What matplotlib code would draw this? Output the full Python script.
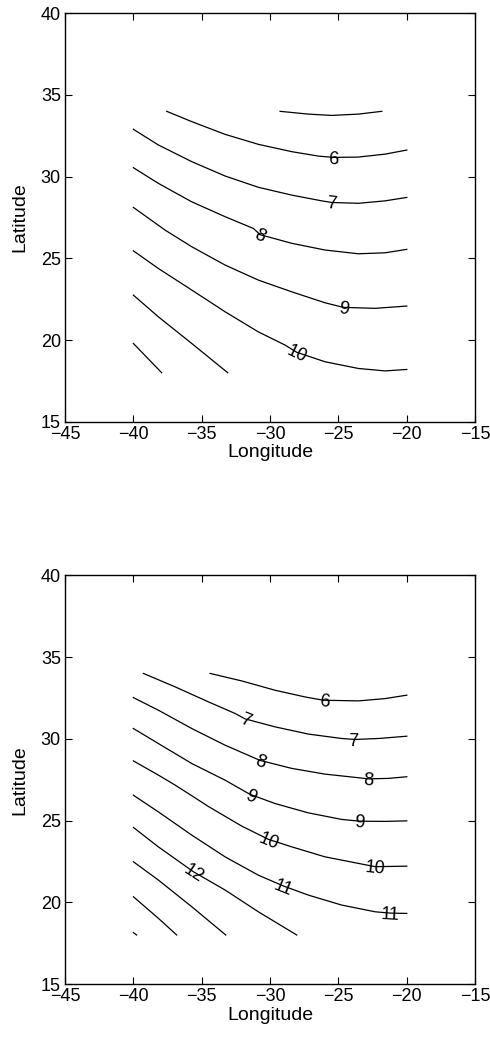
import numpy as np
import matplotlib
matplotlib.use('Agg')
import matplotlib.pyplot as plt

plt.rcParams['font.family'] = ['Liberation Sans', 'DejaVu Sans']

# contour lines: one lon/lat list per level
top_levels = [5, 6, 7, 8, 9, 10, 11, 12]
top_lons = [
    [-29.27, -27.2, -25.49, -23.54, -21.83],
    [-37.56, -35.73, -33.29, -30.86, -28.41, -26.47, -25.37, -23.54, -21.59, -20.0],
    [-40.0, -38.17, -35.73, -33.29, -30.86, -28.41, -26.22, -25.49, -23.54, -21.59, -20.0],
    [-40.0, -38.17, -35.73, -33.29, -31.22, -30.73, -28.41, -25.98, -23.54, -21.59, -20.0],
    [-40.0, -37.68, -35.73, -33.29, -30.86, -28.41, -25.98, -24.64, -22.32, -20.0],
    [-40.0, -38.17, -35.73, -33.29, -30.86, -28.9, -28.05, -25.98, -23.54, -21.59, -20.0],
    [-40.0, -38.17, -35.73, -33.1],
    [-40.0, -37.93],
]
top_lats = [
    [34.0, 33.83, 33.75, 33.83, 34.0],
    [34.0, 33.37, 32.59, 31.98, 31.53, 31.26, 31.18, 31.2, 31.38, 31.63],
    [32.9, 31.94, 30.92, 30.04, 29.35, 28.87, 28.52, 28.42, 28.37, 28.52, 28.73],
    [30.55, 29.59, 28.46, 27.55, 26.83, 26.45, 25.92, 25.51, 25.28, 25.34, 25.55],
    [28.12, 26.73, 25.71, 24.59, 23.67, 22.95, 22.28, 22.0, 21.94, 22.08],
    [25.46, 24.38, 23.06, 21.73, 20.5, 19.69, 19.25, 18.67, 18.26, 18.11, 18.2],
    [22.75, 21.42, 19.79, 18.0],
    [19.79, 18.0],
]
top_label_lons = [[], [-25.37], [-25.49], [-30.73], [-24.64], [-28.05], [], []]

bot_levels = [6, 7, 8, 9, 10, 11, 12, 13, 14, 15]
bot_lons = [
    [-34.39, -32.07, -29.63, -27.44, -26.1, -23.54, -21.59, -20.0],
    [-39.27, -36.95, -34.51, -32.56, -31.83, -29.63, -27.2, -24.76, -23.78, -22.07, -20.0],
    [-40.0, -38.17, -35.73, -33.29, -31.34, -30.73, -28.41, -25.98, -23.54, -22.81, -21.34, -20.0],
    [-40.0, -38.17, -35.73, -33.29, -31.46, -29.63, -27.2, -24.76, -23.42, -21.59, -20.0],
    [-40.0, -38.17, -36.95, -35.73, -34.51, -32.07, -30.12, -28.41, -25.98, -23.54, -22.32, -20.0],
    [-40.0, -38.17, -35.73, -33.29, -30.86, -29.03, -27.2, -24.76, -22.32, -21.22, -20.0],
    [-40.0, -38.17, -35.61, -33.29, -30.86, -28.05],
    [-40.0, -38.17, -35.73, -33.24],
    [-40.0, -38.17, -36.83],
    [-40.0, -39.76],
]
bot_lats = [
    [34.0, 33.54, 32.97, 32.56, 32.36, 32.32, 32.46, 32.67],
    [34.0, 33.18, 32.26, 31.55, 31.22, 30.73, 30.29, 30.02, 29.96, 30.02, 30.16],
    [32.52, 31.75, 30.63, 29.61, 28.9, 28.68, 28.19, 27.84, 27.62, 27.55, 27.58, 27.68],
    [30.63, 29.71, 28.49, 27.47, 26.6, 26.04, 25.47, 25.07, 24.96, 24.95, 24.98],
    [28.65, 27.78, 27.17, 26.52, 25.86, 24.66, 23.85, 23.39, 22.78, 22.38, 22.18, 22.21],
    [26.55, 25.53, 24.11, 22.78, 21.66, 21.0, 20.44, 19.83, 19.42, 19.34, 19.32],
    [24.58, 23.39, 21.87, 20.75, 19.42, 18.0],
    [22.48, 21.36, 19.73, 18.0],
    [20.34, 19.02, 18.0],
    [18.14, 18.0],
]
bot_label_lons = [[-26.0], [-31.83, -23.9], [-30.73, -22.81], [-31.4, -23.5],
                  [-30.12, -22.32], [-29.03, -21.22], [-35.61], [], [], []]

x_ticks = [-45, -40, -35, -30, -25, -20, -15]
y_ticks = [15, 20, 25, 30, 35, 40]


def draw_panel(ax, levels, lons, lats, label_lons):
    for lev, lon, lat, lab in zip(levels, lons, lats, label_lons):
        lon = np.array(lon)
        lat = np.array(lat)
        ax.plot(lon, lat, color='black', linewidth=0.9)
        for lx in lab:
            ly = np.interp(lx, lon, lat)
            d0 = np.interp(lx - 0.8, lon, lat)
            d1 = np.interp(lx + 0.8, lon, lat)
            ang = np.degrees(np.arctan2(d1 - d0, 1.6))
            ax.text(lx, ly - 0.12, str(lev), ha='center', va='center', fontsize=13,
                    rotation=ang, rotation_mode='anchor',
                    transform_rotates_text=True)
    ax.set_xlim(-45, -15)
    ax.set_ylim(15, 40)
    ax.set_xticks(x_ticks)
    ax.set_yticks(y_ticks)
    ax.tick_params(direction='in', top=True, right=True, length=5,
                   labelsize=13, width=0.8, pad=3)
    ax.set_xlabel('Longitude', fontsize=14, labelpad=1)
    ax.set_ylabel('Latitude', fontsize=14, labelpad=9)
    for s in ax.spines.values():
        s.set_linewidth(1.0)


fig = plt.figure(figsize=(4.9, 10.4), dpi=100)
ax1 = fig.add_axes([0.1327, 0.5945, 0.837, 0.3927])
ax2 = fig.add_axes([0.1327, 0.0538, 0.837, 0.393])

draw_panel(ax1, top_levels, top_lons, top_lats, top_label_lons)
draw_panel(ax2, bot_levels, bot_lons, bot_lats, bot_label_lons)

fig.savefig('out.png', dpi=100)
